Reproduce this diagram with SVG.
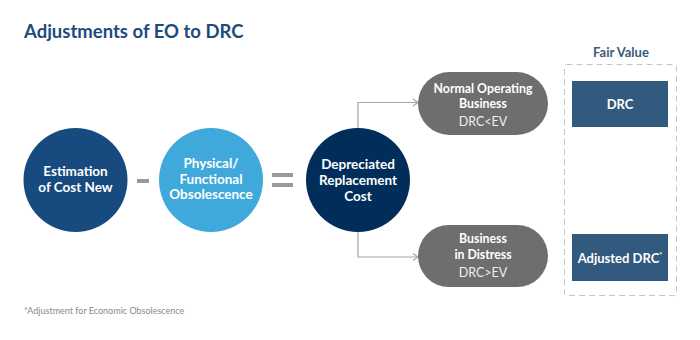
<svg xmlns="http://www.w3.org/2000/svg" width="700" height="340" viewBox="0 0 700 340">
<defs>
<style>
.t{font-family:Lato,"Noto Sans","Liberation Sans",sans-serif;fill:#fff;text-anchor:middle}
.b{font-weight:700;font-size:13.5px}
.p{font-weight:700;font-size:12.3px}
.r{font-weight:400;font-size:12.5px;fill:#eee}
.conn{fill:none;stroke:#a6a6a6;stroke-width:1.2}
</style>
<marker id="ar" markerWidth="10" markerHeight="10" refX="8" refY="5" orient="auto" markerUnits="userSpaceOnUse">
<path d="M3,1.5 L8,5 L3,8.5" fill="none" stroke="#a6a6a6" stroke-width="1.2"/>
</marker>
</defs>
<rect width="700" height="340" fill="#fff"/>
<text x="24" y="38" style="font-family:Lato,'Noto Sans','Liberation Sans',sans-serif;font-weight:700;font-size:18.5px;fill:#1d4b7e">Adjustments of EO to DRC</text>

<g id="estimation">
<circle cx="75.5" cy="180" r="52" fill="#174a7e"/>
<text class="t b" x="75.5" y="175.5">Estimation</text>
<text class="t b" x="75.5" y="191.5">of Cost New</text>
</g>
<g id="minus"><rect x="137" y="179" width="12" height="4" fill="#9a9a9a"/></g>
<g id="physical">
<circle cx="211" cy="180" r="52" fill="#40a9db"/>
<text class="t b" x="211" y="167.5">Physical/</text>
<text class="t b" x="211" y="183.5">Functional</text>
<text class="t b" x="211" y="199">Obsolescence</text>
</g>
<g id="equals">
<rect x="272" y="173" width="21" height="4" fill="#9a9a9a"/>
<rect x="272" y="183" width="21" height="4" fill="#9a9a9a"/>
</g>
<g id="drc-circle">
<circle cx="358" cy="180" r="52" fill="#002d5a"/>
<text class="t b" x="358" y="168.5">Depreciated</text>
<text class="t b" x="358" y="185">Replacement</text>
<text class="t b" x="358" y="201">Cost</text>
</g>

<g id="connectors">
<path class="conn" d="M358,128 V102.5 H418" marker-end="url(#ar)"/>
<path class="conn" d="M358,232 V257 H418" marker-end="url(#ar)"/>
</g>

<g id="normal">
<rect x="418" y="72" width="130" height="63" rx="31.5" fill="#6e6e6e"/>
<text class="t p" x="483" y="93">Normal Operating</text>
<text class="t p" x="483" y="107.5">Business</text>
<text class="t r" x="483" y="126">DRC&lt;EV</text>
</g>
<g id="distress">
<rect x="418" y="225" width="130" height="62" rx="31" fill="#6e6e6e"/>
<text class="t p" x="483" y="242.5">Business</text>
<text class="t p" x="483" y="258.5">in Distress</text>
<text class="t r" x="483" y="276.5">DRC&gt;EV</text>
</g>

<g id="fair-value">
<text x="621" y="57" style="font-family:Lato,'Noto Sans','Liberation Sans',sans-serif;font-weight:700;font-size:13px;fill:#3a5a7c;text-anchor:middle">Fair Value</text>
<rect x="564.5" y="64.5" width="112" height="231" rx="2" fill="none" stroke="#c4c4c4" stroke-width="1" stroke-dasharray="6,4"/>
</g>
<g id="drc-box">
<rect x="572" y="81" width="96" height="46" fill="#325a7e"/>
<text class="t p" x="620" y="108.5" style="font-size:13px">DRC</text>
</g>
<g id="adjusted-box">
<rect x="572" y="234" width="96" height="47" fill="#325a7e"/>
<text class="t p" x="620" y="262.5" style="font-size:13px">Adjusted DRC<tspan font-size="7" dy="-5">*</tspan></text>
</g>

<text x="24" y="314" style="font-family:Lato,'Noto Sans','Liberation Sans',sans-serif;font-size:9px;fill:#8a8a8a">*Adjustment for Economic Obsolescence</text>
</svg>
